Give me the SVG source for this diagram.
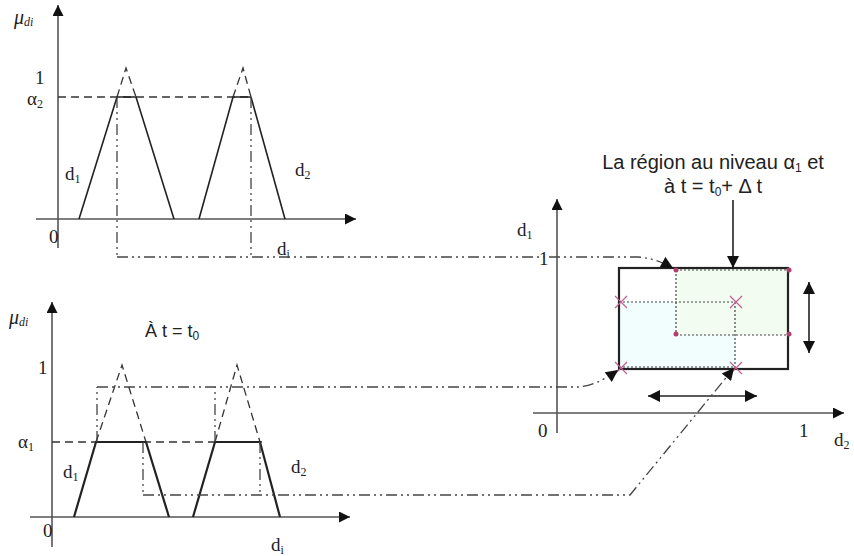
<svg xmlns="http://www.w3.org/2000/svg" width="854" height="556" viewBox="0 0 854 556">
<defs>
<marker id="ah" viewBox="0 0 10 10" refX="10" refY="5" markerWidth="13" markerHeight="11" markerUnits="userSpaceOnUse" orient="auto-start-reverse"><path d="M0,0 L10,5 L0,10 z" fill="#111"/></marker>
<marker id="ahb" viewBox="0 0 10 10" refX="10" refY="5" markerWidth="14" markerHeight="12" markerUnits="userSpaceOnUse" orient="auto-start-reverse"><path d="M0,0 L10,5 L0,10 z" fill="#111"/></marker>
</defs>
<style>
.ax{stroke:#555;stroke-width:1.6;fill:none}
.sol{stroke:#222;stroke-width:1.6;fill:none}
.solb{stroke:#222;stroke-width:2.2;fill:none}
.dash{stroke:#333;stroke-width:1.3;fill:none;stroke-dasharray:8 5}
.dd{stroke:#444;stroke-width:1.3;fill:none;stroke-dasharray:11 4 2 4 2 4}
.dot{stroke:#444;stroke-width:1.2;fill:none;stroke-dasharray:2 2}
.tr{font-family:"Liberation Serif","Times New Roman",serif;font-size:19px;fill:#222}
.ti{font-family:"Liberation Serif","Times New Roman",serif;font-size:20px;font-style:italic;fill:#222}
.ts{font-family:"Liberation Sans",Arial,sans-serif;font-size:18px;fill:#222}
.ts2{font-family:"Liberation Sans",Arial,sans-serif;font-size:20px;fill:#222}
.sub{font-size:12px}
.x{stroke:#c06090;stroke-width:1.2}
.pd{fill:#b04070}
</style>

<g id="chart-top">
<line class="ax" x1="58" y1="248" x2="58" y2="5" marker-end="url(#ah)"/>
<line class="ax" x1="36" y1="219" x2="356" y2="219" marker-end="url(#ah)"/>
<text class="ti" x="14" y="24">μ<tspan class="sub" dy="2">di</tspan></text>
<text class="tr" x="35" y="84">1</text>
<text class="tr" x="27" y="105">α<tspan class="sub" dy="3">2</tspan></text>
<text class="tr" x="49" y="243">0</text>
<text class="tr" x="65" y="180">d<tspan class="sub" dy="3">1</tspan></text>
<text class="tr" x="295" y="176">d<tspan class="sub" dy="3">2</tspan></text>
<text class="tr" x="277" y="255">d<tspan class="sub" dy="3">i</tspan></text>
<line class="dash" x1="58" y1="97" x2="252" y2="97"/>
<polyline class="sol" points="79,219 117,97 136,97 174,219"/>
<polyline class="dash" points="117,97 126,68 136,97"/>
<polyline class="sol" points="199,219 233,97 251,97 285,219"/>
<polyline class="dash" points="233,97 243,68 251,97"/>
</g>

<g id="chart-bottom">
<line class="ax" x1="52" y1="547" x2="52" y2="302" marker-end="url(#ah)"/>
<line class="ax" x1="30" y1="517" x2="350" y2="517" marker-end="url(#ah)"/>
<text class="ti" x="9" y="324">μ<tspan class="sub" dy="2">di</tspan></text>
<text class="ts" x="145" y="337">À t = t<tspan class="sub" dy="3">0</tspan></text>
<text class="tr" x="38" y="374">1</text>
<text class="tr" x="18" y="448">α<tspan class="sub" dy="3">1</tspan></text>
<text class="tr" x="43" y="537">0</text>
<text class="tr" x="63" y="478">d<tspan class="sub" dy="3">1</tspan></text>
<text class="tr" x="291" y="473">d<tspan class="sub" dy="3">2</tspan></text>
<text class="tr" x="271" y="551">d<tspan class="sub" dy="3">i</tspan></text>
<line class="dash" x1="52" y1="442" x2="262" y2="442"/>
<polyline class="solb" points="74,517 96,442 146,442 169,517"/>
<polyline class="dash" points="96,442 122,365 146,442"/>
<polyline class="solb" points="193,517 215,442 260,442 280,517"/>
<polyline class="dash" points="215,442 237,365 260,442"/>
</g>

<g id="region">
<rect x="619" y="302" width="116" height="67" fill="#f2fdfd"/>
<rect x="676" y="268" width="112" height="67" fill="#f2fcf0"/>
<rect x="619" y="302" width="57" height="67" fill="#f2fdfd"/>
<line class="dot" x1="619" y1="302" x2="735" y2="302"/>
<line class="dot" x1="735" y1="302" x2="735" y2="369"/>
<line class="dot" x1="619" y1="302" x2="619" y2="369"/>
<line class="dot" x1="676" y1="270" x2="676" y2="335"/>
<line class="dot" x1="676" y1="335" x2="788" y2="335"/>
<line class="dot" x1="676" y1="270" x2="788" y2="270"/>
<line class="dot" x1="619" y1="367" x2="735" y2="367"/>
<rect x="619" y="268" width="169" height="101" class="solb"/>
<circle class="pd" cx="676" cy="270" r="2.5"/>
<circle class="pd" cx="789" cy="270" r="2.5"/>
<circle class="pd" cx="676" cy="334" r="2.5"/>
<circle class="pd" cx="789" cy="334" r="2.5"/>
<path class="x" d="M615,296 l12,12 M627,296 l-12,12 M730,296 l12,12 M742,296 l-12,12 M615,362 l12,12 M627,362 l-12,12 M730,362 l12,12 M742,362 l-12,12"/>
</g>

<g id="chart-right">
<line class="ax" x1="557" y1="433" x2="557" y2="199" marker-end="url(#ah)"/>
<line class="ax" x1="533" y1="413" x2="844" y2="413" marker-end="url(#ah)"/>
<text class="tr" x="517" y="236">d<tspan class="sub" dy="3">1</tspan></text>
<text class="tr" x="539" y="265">1</text>
<text class="tr" x="538" y="437">0</text>
<text class="tr" x="799" y="437">1</text>
<text class="tr" x="834" y="446">d<tspan class="sub" dy="3">2</tspan></text>
</g>

<g id="label">
<text class="ts2" x="713" y="169" text-anchor="middle">La région au niveau α<tspan class="sub" dy="3">1</tspan><tspan dy="-3"> et</tspan></text>
<text class="ts2" x="713" y="193" text-anchor="middle">à t = t<tspan class="sub" dy="3">0</tspan><tspan dy="-3">+ Δ t</tspan></text>
</g>

<g id="connectors">
<line class="sol" x1="733" y1="200" x2="733" y2="268" marker-end="url(#ahb)"/>
<line class="sol" x1="809" y1="282" x2="809" y2="353" marker-start="url(#ahb)" marker-end="url(#ahb)"/>
<line class="sol" x1="648" y1="396" x2="757" y2="396" marker-start="url(#ahb)" marker-end="url(#ahb)"/>
<polyline class="dd" points="117,97 117,257"/>
<polyline class="dd" points="251,97 251,257"/>
<path class="dd" d="M117,257 L638,257 Q655,258 673,268" marker-end="url(#ahb)"/>
<polyline class="dd" points="97,442 97,387"/>
<polyline class="dd" points="215,442 215,387"/>
<path class="dd" d="M97,387 L578,387 Q596,386 618,370" marker-end="url(#ahb)"/>
<polyline class="dd" points="143,442 143,495"/>
<polyline class="dd" points="260,442 260,495"/>
<path class="dd" d="M143,495 L630,495 L734,368" marker-end="url(#ahb)"/>
</g>
</svg>
